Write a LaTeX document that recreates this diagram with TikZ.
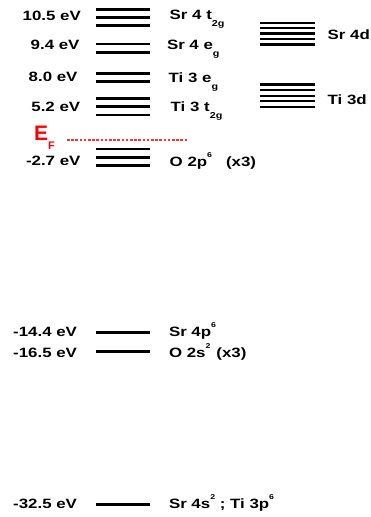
\documentclass[tikz,border=0pt]{standalone}
\usepackage{fontspec}
\setmainfont{Liberation Sans}[FakeStretch=1.25]
\newfontfamily\efont{Liberation Sans}
\newcommand\lsub[1]{\raisebox{-7pt}{\fontsize{8.6}{9}\selectfont\bfseries #1}}
\newcommand\hsup[1]{\raisebox{9pt}{\fontsize{7}{7}\selectfont\bfseries #1}}
\definecolor{fermired}{RGB}{255,50,50}
\tikzset{
  level/.style={line width=2.6pt},
  dlevel/.style={line width=2.4pt},
  lab/.style={inner sep=0pt, anchor=base west, font=\fontsize{13.5}{16}\selectfont\bfseries},
  fermi/.style={color=fermired, line width=2pt, dash pattern=on 2.6pt off 1.6pt}
}
\begin{document}
\begin{tikzpicture}[x=1pt,y=-1pt]
\useasboundingbox (0,0) rectangle (371,517);
% energy levels of the left column
\foreach \y in {9.3,17.3,25.3, 44,52.3, 73.3,81.7, 98.3,106.7,115, 149,157.3,165.7, 332.7, 351.7, 504.7}
  \draw[level] (96,\y) -- (150,\y);
% d-band levels of the right column
\foreach \y in {22.7,28,33.3,38.7,44.3, 84.3,90,95.7,101,106.7}
  \draw[dlevel] (260,\y) -- (315,\y);
% Fermi level
\draw[fermi] (67,139.5) -- (187,139.5);
\node[inner sep=0pt, anchor=base west, text=red, font=\efont\fontsize{21}{23}\selectfont\bfseries] (ef) at (34,140)
  {E\raisebox{-9.8pt}{\fontsize{11}{12}\selectfont\bfseries F}};
% energies
\node[lab] (e1) at (22.5,20.3) {10.5 eV};
\node[lab] (e2) at (30.5,49.3) {9.4 eV};
\node[lab] (e3) at (28.5,81.8) {8.0 eV};
\node[lab] (e4) at (31.2,111.3) {5.2 eV};
\node[lab] (e5) at (25.8,165) {-2.7 eV};
\node[lab] (e6) at (13,336.3) {-14.4 eV};
\node[lab] (e7) at (13,357.5) {-16.5 eV};
\node[lab] (e8) at (13,508.3) {-32.5 eV};
% orbital labels
\node[lab] (o1) at (169.5,19.6) {Sr 4 t\lsub{2g}};
\node[lab] (o2) at (166.8,49.5) {Sr 4 e\lsub{g}};
\node[lab] (o3) at (168.5,82) {Ti 3 e\lsub{g}};
\node[lab] (o4) at (170.5,111.6) {Ti 3 t\lsub{2g}};
\node[lab] (o5) at (169.5,166.5) {O 2p\hsup{6}\hspace{14pt}(x3)};
\node[lab] (o6) at (168.8,336.5) {Sr 4p\hsup{6}};
\node[lab] (o7) at (168.8,357.7) {O 2s\hsup{2}\hspace{6pt}(x3)};
\node[lab] (o8) at (168.8,508.5) {Sr 4s\hsup{2} ; Ti 3p\hsup{6}};
\node[lab] (d1) at (327.5,39.3) {Sr 4d};
\node[lab] (d2) at (327.5,104.7) {Ti 3d};
\end{tikzpicture}
\end{document}
